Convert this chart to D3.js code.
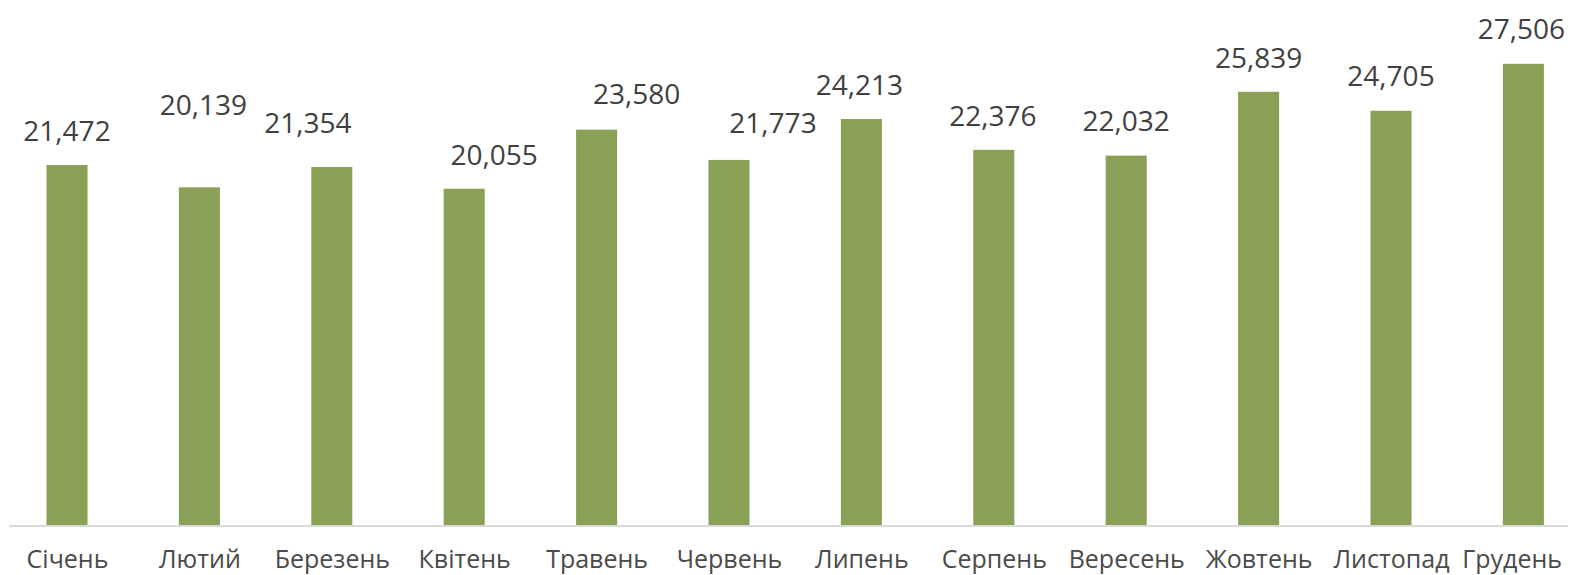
<!DOCTYPE html>
<html>
<head>
<meta charset="utf-8">
<script src="https://cdn.jsdelivr.net/npm/d3@7"></script>
<style>
  html, body { margin: 0; padding: 0; background: #ffffff; }
  svg { display: block; }
  .value-label { font-family: "Open Sans", "Noto Sans", sans-serif; font-size: 28px; fill: #404040; }
  .cat-axis text { font-family: "Open Sans", "Noto Sans", sans-serif; font-size: 25px; fill: #4a4a4a; }
</style>
</head>
<body>
<svg id="chart" width="1574" height="575"></svg>
<script>
// Monthly totals
const months = ["Січень", "Лютий", "Березень", "Квітень", "Травень", "Червень",
                "Липень", "Серпень", "Вересень", "Жовтень", "Листопад", "Грудень"];
const values = [21472, 20139, 21354, 20055, 23580, 21773,
                24213, 22376, 22032, 25839, 24705, 27506];

// Manual nudges for data labels that were moved off their default spot (px)
const labelDx = [0, 4, -24, 30, 40, 44, -2, -1, 0, 0, 0, -2];
const labelDy = [0, -48, -10, 0, -2, -3, 0, 0, -1, 0, -1, -1];

const W = 1574, H = 575;
const baseY = 525;
const svg = d3.select("#chart");

const x = d3.scaleBand()
  .domain(months)
  .range([0.8, 1589.6])
  .paddingInner(0.69)
  .paddingOuter(0.345);

const y = d3.scaleLinear()
  .domain([0, 30000])
  .range([baseY, 22]);

const fmt = d3.format(",");

// Bars
svg.append("g")
  .selectAll("rect")
  .data(values)
  .join("rect")
  .attr("x", (d, i) => x(months[i]))
  .attr("y", d => y(d))
  .attr("width", x.bandwidth())
  .attr("height", d => y(0) - y(d))
  .attr("fill", "#8aa057");

// Category axis baseline
svg.append("line")
  .attr("x1", 9).attr("x2", 1568)
  .attr("y1", baseY + 1).attr("y2", baseY + 1)
  .attr("stroke", "#d9d9d9")
  .attr("stroke-width", 2);

// Category labels
const axis = svg.append("g")
  .attr("class", "cat-axis")
  .attr("transform", `translate(${x.bandwidth() / 2 - 0},${baseY})`)
  .call(d3.axisBottom(d3.scalePoint().domain(months).range([x(months[0]), x(months[months.length - 1])]))
    .tickSize(0).tickPadding(0));
axis.select(".domain").remove();
axis.selectAll("text")
  .attr("dy", null)
  .attr("y", 43)
  .style("font-family", null)
  .style("font-size", null)
  .attr("font-family", null)
  .attr("font-size", null);
axis.attr("font-family", null).attr("font-size", null);
// keep the last label inside the frame
axis.selectAll(".tick").each(function () {
  const t = d3.select(this);
  const txt = t.select("text").node();
  const w = txt.getComputedTextLength();
  const m = /translate\(([-\d.]+)/.exec(t.attr("transform"));
  const cx = +m[1] + x.bandwidth() / 2;
  const limit = W - 12 - w / 2;
  if (cx > limit) t.select("text").attr("x", limit - cx);
});

// Value labels
svg.append("g")
  .selectAll("text")
  .data(values)
  .join("text")
  .attr("class", "value-label")
  .attr("text-anchor", "middle")
  .attr("x", (d, i) => x(months[i]) + x.bandwidth() / 2 + labelDx[i])
  .attr("y", (d, i) => y(d) - 24 + labelDy[i])
  .text(d => fmt(d));
</script>
</body>
</html>
